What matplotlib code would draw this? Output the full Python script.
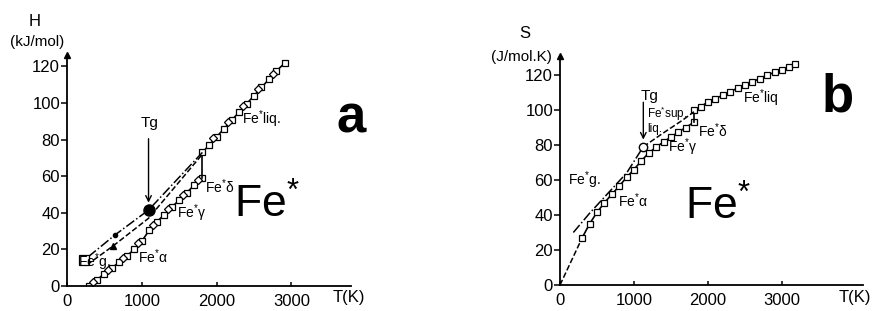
import matplotlib
matplotlib.use("Agg")
import matplotlib.pyplot as plt

plt.rcParams['font.family'] = ['Liberation Sans', 'DejaVu Sans']
plt.rcParams['mathtext.default'] = 'regular'

# ---------------- data: panel a (enthalpy) ----------------
H_cryst_T = [300, 400, 500, 600, 700, 800, 900, 1000, 1100, 1200, 1300, 1400, 1500, 1600, 1700, 1810]
H_cryst = [0, 3.3, 6.8, 9.8, 13.2, 16.5, 20.0, 24.5, 30.5, 35.0, 39.0, 43.0, 47.0, 51.0, 55.0, 59.0]
H_liq_T = [1810, 1900, 2000, 2100, 2200, 2300, 2400, 2500, 2600, 2700, 2800, 2915]
H_liq = [73, 77, 81.5, 86, 90.5, 95, 99.5, 104, 108.5, 113, 117.5, 122]
H_exp_T = [350, 550, 750, 950, 1150, 1350, 1550, 1750, 1950, 2150, 2350, 2550, 2750]
H_exp = [2.2, 9.0, 15.5, 23.5, 33.5, 42.0, 49.5, 58.0, 81.0, 89.5, 98.5, 107.5, 116.0]
H_glass1_T = [285, 645, 1090, 1810]
H_glass1 = [16.0, 28.0, 41.5, 73.0]
H_glass2_T = [265, 620, 1090, 1810]
H_glass2 = [11.5, 22.0, 37.0, 72.0]
H_Tg = (1090, 41.5)

# ---------------- data: panel b (entropy) ----------------
S_cryst_T = [300, 400, 500, 600, 700, 800, 900, 1000, 1100, 1200, 1300, 1400, 1500, 1600, 1700, 1810]
S_cryst = [27, 35, 41.5, 47.0, 51.8, 56.5, 61.5, 66.0, 71.0, 75.5, 78.8, 81.8, 84.6, 87.4, 90.0, 93.0]
S_liq_T = [1810, 1900, 2000, 2100, 2200, 2300, 2400, 2500, 2600, 2700, 2800, 2900, 3000, 3100, 3180]
S_liq = [100, 102, 104.5, 106.5, 108.5, 110.5, 112.5, 114.5, 116, 118, 120, 121.5, 123, 124.5, 126.5]
S_glass_T = [180, 400, 650, 900, 1126]
S_glass = [30, 41, 52.5, 64, 79]
S_extrap_T = [0, 300]
S_extrap = [0, 27]
S_sup_T = [1126, 1400, 1650, 1810]
S_sup = [79, 87, 94, 99]
S_Tg = (1126, 79)

x_ticks = [0, 1000, 2000, 3000]
y_ticks = [0, 20, 40, 60, 80, 100, 120]

fig = plt.figure(figsize=(8.75, 3.11), dpi=100)
axA = fig.add_axes([67/875, 25/311, 0.0748*3800/875, 1.83*126/311])
axB = fig.add_axes([560/875, 26/311, 0.074*4100/875, 1.75*131/311])
axA.set_xlim(0, 3800); axA.set_ylim(0, 126)
axB.set_xlim(0, 4100); axB.set_ylim(0, 131)

for ax in (axA, axB):
    for s in ('top', 'right'):
        ax.spines[s].set_visible(False)
    for s in ('left', 'bottom'):
        ax.spines[s].set_linewidth(1.3)
    ax.set_xticks(x_ticks)
    ax.set_yticks(y_ticks)
    ax.tick_params(axis='y', direction='out', length=4, width=1.1, pad=1, labelsize=12)
    ax.tick_params(axis='x', direction='in', length=3, width=1.1, pad=6, labelsize=12)
    ax.plot(0, 1, marker='^', color='k', ms=5, transform=ax.transAxes, clip_on=False)
    ax.set_facecolor('none')

# ---------- panel a ----------
lk = dict(color='k', lw=1.2)
axA.plot(H_cryst_T, H_cryst, '-', marker='s', ms=4, mfc='white', mec='k', mew=0.9, **lk)
axA.plot([H_cryst_T[-1], H_liq_T[0]], [H_cryst[-1], H_liq[0]], '-', **lk)
axA.plot(H_liq_T, H_liq, '-', marker='s', ms=4, mfc='white', mec='k', mew=0.9, **lk)
axA.plot(H_exp_T, H_exp, 'D', ms=4, mfc='white', mec='k', mew=0.9)
axA.plot(H_glass1_T, H_glass1, '-.', color='k', lw=1.1)
axA.plot(H_glass2_T, H_glass2, '--', color='k', lw=1.1)
axA.plot(H_glass1_T[1], H_glass1[1], 'o', color='k', ms=3)
axA.plot(H_glass2_T[1], H_glass2[1], '^', color='k', ms=4)
axA.plot(H_glass1_T[0] - 60, H_glass1[0] - 2, 's', ms=7, mfc='white', mec='k', mew=0.9)
axA.plot(*H_Tg, 'o', color='k', ms=8)
axA.annotate('', xy=(H_Tg[0], H_Tg[1] + 2.5), xytext=(H_Tg[0], 82),
             arrowprops=dict(arrowstyle='->', color='k', lw=1.0))
axA.text(H_Tg[0] + 20, 85, 'Tg', fontsize=11, ha='center', va='bottom')
fs_lab = 10
axA.text(2340, 91, 'Fe$^{*}$liq.', fontsize=fs_lab, va='center')
axA.text(1845, 54, 'Fe$^{*}$δ', fontsize=fs_lab, va='center')
axA.text(1470, 40, 'Fe$^{*}$γ', fontsize=fs_lab, va='center')
axA.text(950, 16, 'Fe$^{*}$α', fontsize=fs_lab, va='center')
axA.text(150, 13, 'Fe$^{*}$g.', fontsize=fs_lab, va='center')
axA.text(2230, 44, 'Fe$^{*}$', fontsize=32, ha='left', va='center')
axA.text(3550, -0.052, 'T(K)', fontsize=12, va='center', transform=axA.get_xaxis_transform())

# ---------- panel b ----------
axB.plot(S_extrap_T, S_extrap, '--', color='k', lw=1.1)
axB.plot(S_cryst_T, S_cryst, '-', marker='s', ms=4.5, mfc='white', mec='k', mew=0.9, **lk)
axB.plot([S_cryst_T[-1], S_liq_T[0]], [S_cryst[-1], S_liq[0]], '-', **lk)
axB.plot(S_liq_T, S_liq, '-', marker='s', ms=4.5, mfc='white', mec='k', mew=0.9, **lk)
axB.plot(S_glass_T, S_glass, '-.', color='k', lw=1.1)
axB.plot(S_sup_T, S_sup, '--', color='k', lw=1.1)
axB.plot(*S_Tg, 'o', ms=6, mfc='white', mec='k', mew=1.0)
axB.annotate('', xy=(S_Tg[0], S_Tg[1] + 2.5), xytext=(S_Tg[0], 106),
             arrowprops=dict(arrowstyle='->', color='k', lw=1.0))
axB.text(S_Tg[0] - 30, 104, 'Tg', fontsize=11, ha='left', va='bottom')
axB.text(108, 60, 'Fe$^{*}$g.', fontsize=fs_lab, va='center')
axB.text(784, 48, 'Fe$^{*}$α', fontsize=fs_lab, va='center')
axB.text(1460, 79, 'Fe$^{*}$γ', fontsize=fs_lab, va='center')
axB.text(1870, 88, 'Fe$^{*}$δ', fontsize=fs_lab, va='center')
axB.text(1180, 97.5, 'Fe$^{*}$sup.', fontsize=8.5, va='center')
axB.text(1180, 89, 'liq.', fontsize=8.5, va='center')
axB.text(2473, 107, 'Fe$^{*}$liq', fontsize=fs_lab, va='center')
axB.text(1690, 44.6, 'Fe$^{*}$', fontsize=32, ha='left', va='center')
axB.text(3760, -0.055, 'T(K)', fontsize=12, va='center', transform=axB.get_xaxis_transform())

# axis titles and panel letters
fig.text(35/875, 1 - 22/311, 'H', fontsize=12, ha='center', va='center')
fig.text(37/875, 1 - 42/311, '(kJ/mol)', fontsize=11, ha='center', va='center')
fig.text(525/875, 1 - 33/311, 'S', fontsize=12, ha='center', va='center')
fig.text(521/875, 1 - 57/311, '(J/mol.K)', fontsize=11, ha='center', va='center')
fig.text(351/875, 1 - 119/311, 'a', fontsize=38, fontweight='bold', ha='center', va='center')
fig.text(838/875, 1 - 98/311, 'b', fontsize=38, fontweight='bold', ha='center', va='center')

fig.savefig('out.png', dpi=100)
